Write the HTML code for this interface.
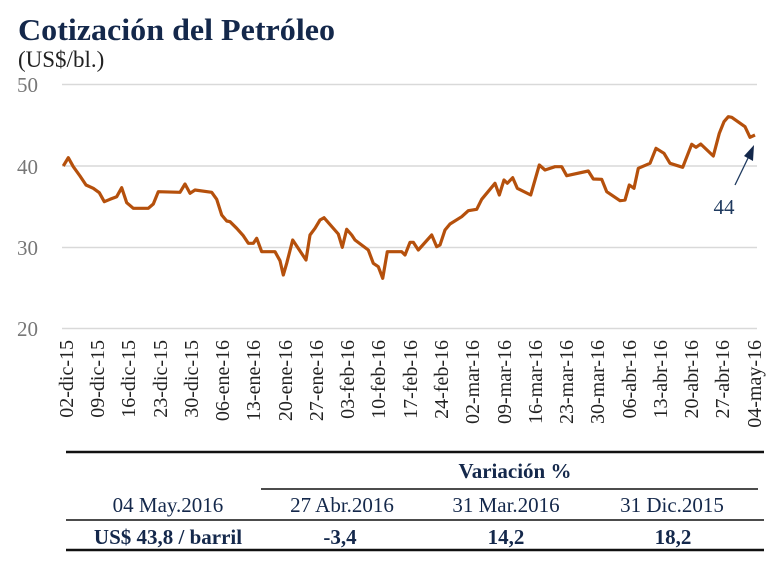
<!DOCTYPE html>
<html><head><meta charset="utf-8"><style>
html,body{margin:0;padding:0;background:#fff;}
body{width:780px;height:574px;overflow:hidden;}
</style></head><body>
<svg width="780" height="574" viewBox="0 0 780 574" xmlns="http://www.w3.org/2000/svg" font-family="'Liberation Serif', serif">
<text x="18" y="40" font-size="31" font-weight="bold" fill="#14284b" textLength="317" lengthAdjust="spacingAndGlyphs">Cotización del Petróleo</text>
<text x="18" y="67" font-size="23" fill="#222">(US$/bl.)</text>
<g stroke="#d9d9d9" stroke-width="1.5">
<line x1="62" y1="84.5" x2="757" y2="84.5"/>
<line x1="62" y1="166" x2="757" y2="166"/>
<line x1="62" y1="247.5" x2="757" y2="247.5"/>
<line x1="62" y1="328.5" x2="757" y2="328.5"/>
</g>
<g font-size="21" fill="#777">
<text x="17" y="92">50</text>
<text x="17" y="174">40</text>
<text x="17" y="255">30</text>
<text x="17" y="336">20</text>
</g>
<polyline fill="none" stroke="#b5500c" stroke-width="3.2" stroke-linejoin="round" points="63.3,166 68.3,157.7 73.3,166.7 80,176 86,185 93.3,188.3 99.3,192.7 104.3,201.7 110,199.3 116.7,196.7 121.7,187.7 126.7,202.7 133.3,208.3 148.3,208.3 153.3,204 158.3,191.7 180,192.3 185,184 190,193.3 195,190 211.7,192.3 216.7,199.3 221.7,215 226.7,221 230,221.7 236.7,228.3 243.3,235.7 248.3,243.3 253.3,243.3 256.7,238.3 261.7,251.7 275,251.7 280,260.7 283.3,275 286.7,263.3 292.7,240 306,260 310,235 315,228.3 320,220 324,217.7 338.3,234 342.3,247.3 346.7,229.3 351.7,235 355,240 368.3,250 373.3,263.3 378.3,266.7 382.7,278.3 387.3,251.7 401.7,251.7 405,255 410,242.3 413.3,242.3 418.3,250 431.7,235 436.7,246.7 440,245 445,230 450,224 461.7,216.7 468.3,210.7 476.7,209.3 481.7,199.3 495,183.3 499.3,195 504,180 507.3,183.3 512.7,177.7 517.3,188.3 530.7,195 539.3,165 545,170 555,166.7 561.7,166.7 566.7,175.7 588.3,171 593.3,179 601.7,179.3 606.7,191.7 620,200.7 625,200 629.3,185 634,188.3 638.3,168.3 650,163.3 656,148.3 664,153.3 670,163.3 682.7,167.3 691.7,144.3 696,147.3 700.7,144 713.3,156 719.3,133.3 724,121.7 728.3,116.7 731.7,117.3 745,126.7 750,137.3 755,135"/>
<line x1="735" y1="185" x2="750" y2="154" stroke="#1f3a5f" stroke-width="1.3"/>
<polygon points="754,145 753,161 744,156" fill="#14284b"/>
<text x="724" y="214" font-size="21" fill="#1f3a5f" text-anchor="middle">44</text>
<g font-size="20" fill="#222" text-anchor="end">
<text transform="translate(73,340) rotate(-90)">02-dic-15</text>
<text transform="translate(104,340) rotate(-90)">09-dic-15</text>
<text transform="translate(135,340) rotate(-90)">16-dic-15</text>
<text transform="translate(167,340) rotate(-90)">23-dic-15</text>
<text transform="translate(198,340) rotate(-90)">30-dic-15</text>
<text transform="translate(229,340) rotate(-90)">06-ene-16</text>
<text transform="translate(260,340) rotate(-90)">13-ene-16</text>
<text transform="translate(292,340) rotate(-90)">20-ene-16</text>
<text transform="translate(323,340) rotate(-90)">27-ene-16</text>
<text transform="translate(354,340) rotate(-90)">03-feb-16</text>
<text transform="translate(385,340) rotate(-90)">10-feb-16</text>
<text transform="translate(417,340) rotate(-90)">17-feb-16</text>
<text transform="translate(448,340) rotate(-90)">24-feb-16</text>
<text transform="translate(479,340) rotate(-90)">02-mar-16</text>
<text transform="translate(511,340) rotate(-90)">09-mar-16</text>
<text transform="translate(542,340) rotate(-90)">16-mar-16</text>
<text transform="translate(573,340) rotate(-90)">23-mar-16</text>
<text transform="translate(604,340) rotate(-90)">30-mar-16</text>
<text transform="translate(636,340) rotate(-90)">06-abr-16</text>
<text transform="translate(667,340) rotate(-90)">13-abr-16</text>
<text transform="translate(698,340) rotate(-90)">20-abr-16</text>
<text transform="translate(729,340) rotate(-90)">27-abr-16</text>
<text transform="translate(761,340) rotate(-90)">04-may-16</text>
</g>
<g stroke="#111">
<line x1="66" y1="452" x2="764" y2="452" stroke-width="2.5"/>
<line x1="261" y1="489" x2="758" y2="489" stroke-width="1.5"/>
<line x1="66" y1="520" x2="764" y2="520" stroke-width="1.5"/>
<line x1="66" y1="550" x2="764" y2="550" stroke-width="2.5"/>
</g>
<g font-size="21" fill="#14284b" text-anchor="middle">
<text x="515" y="478" font-weight="bold">Variación %</text>
<text x="168" y="512">04 May.2016</text>
<text x="342" y="512">27 Abr.2016</text>
<text x="506" y="512">31 Mar.2016</text>
<text x="672" y="512">31 Dic.2015</text>
<text x="168" y="544" font-weight="bold">US$ 43,8 / barril</text>
<text x="340" y="544" font-weight="bold">-3,4</text>
<text x="506" y="544" font-weight="bold">14,2</text>
<text x="673" y="544" font-weight="bold">18,2</text>
</g>
</svg>
</body></html>
